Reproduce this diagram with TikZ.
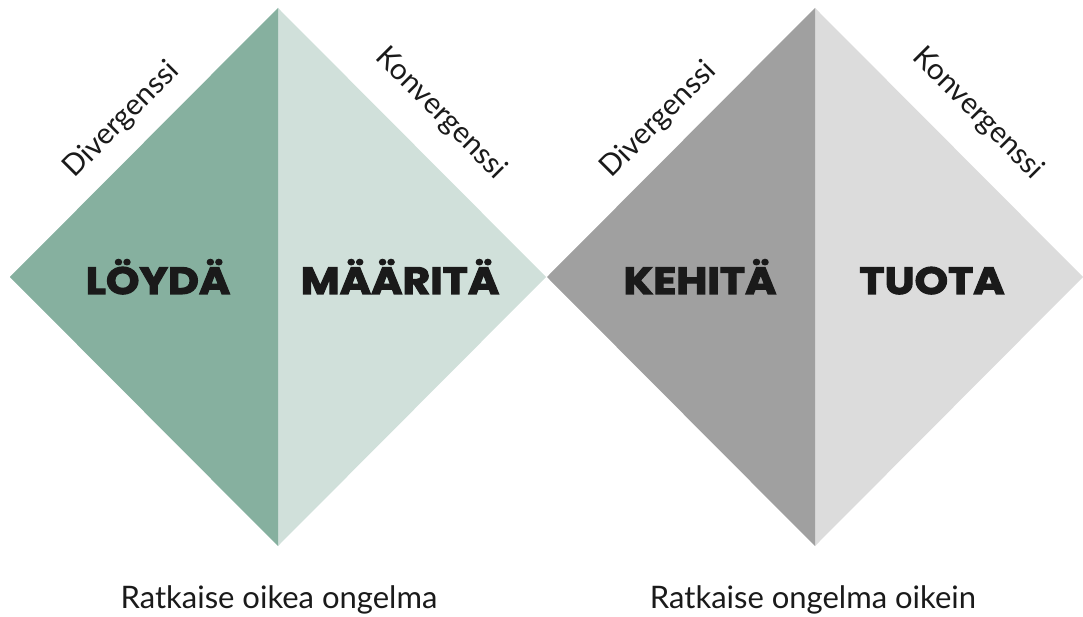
\documentclass[tikz,border=0pt]{standalone}
\usepackage{fontspec}
\setmainfont{Lato}
\newfontfamily\headfont{Poppins}[BoldFeatures={FakeStretch=1.12,FakeBold=3}]
\definecolor{vihrea}{HTML}{86B09F}
\definecolor{vaaleanvihrea}{HTML}{D0E0DA}
\definecolor{harmaa}{HTML}{A0A0A0}
\definecolor{vaaleanharmaa}{HTML}{DCDCDC}
\definecolor{teksti}{HTML}{1A1A1A}
\begin{document}
\begin{tikzpicture}[x=1pt,y=-1pt,
  otsikko/.style={font=\headfont\bfseries\fontsize{38}{38}\selectfont, text=teksti, anchor=base},
  reuna/.style={font=\fontsize{29.5}{29.5}\selectfont, text=teksti, inner sep=0pt, midway, sloped, above=#1},
  alateksti/.style={font=\fontsize{31}{31}\selectfont, text=teksti, anchor=base}]
\useasboundingbox (0,0) rectangle (1083,617);
\foreach \x/\n/\tumma/\vaalea in {278/a/vihrea/vaaleanvihrea, 815/b/harmaa/vaaleanharmaa} {
    \coordinate (\n-top) at (\x,8);
    \coordinate (\n-left) at (\x-268,277);
    \coordinate (\n-bottom) at (\x,546);
    \coordinate (\n-right) at (\x+268,277);
    \fill[\vaalea] (\n-top) -- (\n-right) -- (\n-bottom) -- (\n-left) -- cycle;
    \fill[\tumma] (\n-top) -- (\n-bottom) -- (\n-left) -- cycle;
    \path (\n-left) -- (\n-top) node[reuna=18pt] (\n-div) {Divergenssi};
    \path (\n-top) -- (\n-right) node[reuna=27pt] (\n-kon) {Konvergenssi};
}
\node[otsikko] (loyda) at (158,294) {LÖYDÄ};
\node[otsikko] (maarita) at (400,294) {MÄÄRITÄ};
\node[otsikko] (kehita) at (700,294) {KEHITÄ};
\node[otsikko] (tuota) at (932,294) {TUOTA};
\node[alateksti] (oikea) at (279,608) {Ratkaise oikea ongelma};
\node[alateksti] (oikein) at (813,608) {Ratkaise ongelma oikein};
\end{tikzpicture}
\end{document}
